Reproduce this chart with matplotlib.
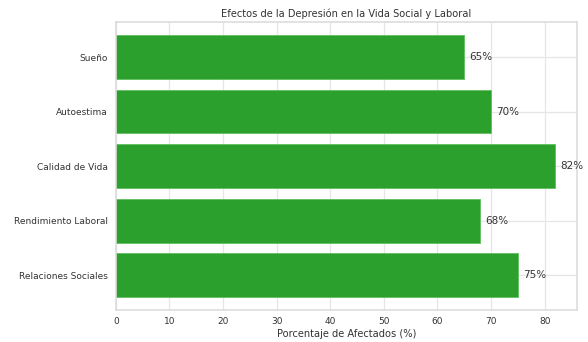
import matplotlib
matplotlib.use('Agg')
import matplotlib.pyplot as plt
import seaborn as sns

# datos del gráfico
categorias = ['Relaciones Sociales', 'Rendimiento Laboral', 'Calidad de Vida', 'Autoestima', 'Sueño']
porcentajes = [75, 68, 82, 70, 65]

sns.set_theme(style='whitegrid')
plt.rcParams['font.family'] = ['DejaVu Sans']

fig, ax = plt.subplots(figsize=(5.88, 3.42), dpi=100)
bars = ax.barh(categorias, porcentajes, color='#2ca02c', height=0.8,
               edgecolor='#5fbf5f', linewidth=0.6, zorder=2)

# etiquetas de valor junto a cada barra
for bar, val in zip(bars, porcentajes):
    ax.text(bar.get_width() + 0.9, bar.get_y() + bar.get_height() / 2, f'{val}%',
            va='center', ha='left', fontsize=7.5, color='#333333')

ax.set_xlim(0, 86)
ax.set_title('Efectos de la Depresión en la Vida Social y Laboral', fontsize=7.1, color='#333333', pad=4)
ax.set_xlabel('Porcentaje de Afectados (%)', fontsize=7.1, color='#333333', labelpad=2)
ax.tick_params(axis='x', labelsize=6.5, colors='#333333', length=0, pad=5)
ax.tick_params(axis='y', labelsize=6.5, colors='#333333', length=0, pad=6)
ax.grid(color='#e6e6e6', linewidth=0.9)
for s in ax.spines.values():
    s.set_color('#dadada')
    s.set_linewidth(1.1)

plt.subplots_adjust(left=0.197, right=0.981, top=0.935, bottom=0.093)
plt.savefig('out.png', dpi=100)
